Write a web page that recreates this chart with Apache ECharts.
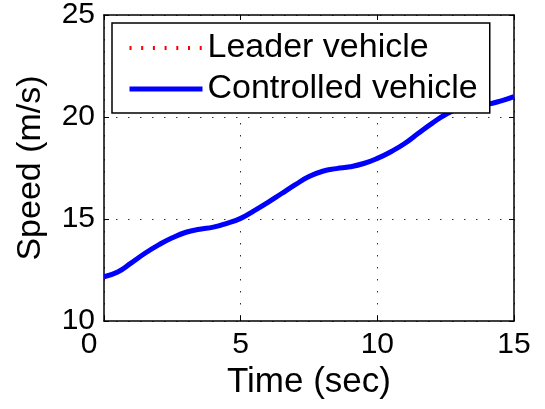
<!DOCTYPE html>
<html>
<head>
<meta charset="utf-8">
<script src="https://cdn.jsdelivr.net/npm/echarts@6/dist/echarts.min.js"></script>
<style>
  html, body { margin: 0; padding: 0; background: #fff; }
  #chart { width: 545px; height: 409px; }
</style>
</head>
<body>
<div id="chart"></div>
<script>
// Time samples (sec)
const times = [0, 0.5, 1, 1.5, 2, 2.5, 3, 3.5, 4, 4.5, 5, 5.5, 6, 6.5, 7, 7.5,
  8, 8.5, 9, 9.5, 10, 10.5, 11, 11.5, 12, 12.5, 13, 13.5, 14, 14.5, 15];
// Speeds (m/s)
const leaderSpeed = [12.15, 12.4, 12.85, 13.32, 13.73, 14.08, 14.35, 14.5, 14.6, 14.79,
  15.03, 15.41, 15.82, 16.25, 16.68, 17.08, 17.34, 17.47, 17.56, 17.72,
  17.97, 18.3, 18.7, 19.2, 19.69, 20.12, 20.42, 20.54, 20.62, 20.78, 21.0];
const controlledSpeed = [12.17, 12.4, 12.85, 13.32, 13.73, 14.08, 14.35, 14.5, 14.6, 14.79,
  15.03, 15.41, 15.82, 16.25, 16.68, 17.08, 17.34, 17.47, 17.56, 17.72,
  17.97, 18.3, 18.7, 19.2, 19.69, 20.12, 20.42, 20.54, 20.62, 20.78, 21.0];
const seriesNames = ['Leader vehicle', 'Controlled vehicle'];
const xTicks = { min: 0, max: 15, interval: 5 };
const yTicks = { min: 10, max: 25, interval: 5 };

const font = 'Liberation Sans';
const red = '#ff0000';
const blue = '#0000ff';
const leaderLine = { color: red, width: 4, type: [2, 9.7] };
const controlledLine = { color: blue, width: 5 };

const chart = echarts.init(document.getElementById('chart'));

function pairs(values) {
  return times.map((t, i) => [t, values[i]]);
}

// MATLAB style box: every side drawn, ticks pointing in
const boxLine = { show: true, onZero: false, lineStyle: { color: '#000', width: 1.5 } };
const inTick = { show: true, inside: true, length: 5, lineStyle: { color: '#000', width: 1 } };
const dotted = { show: true, lineStyle: { color: '#333', width: 1, type: [1.5, 10.5] } };

chart.setOption({
  animation: false,
  textStyle: { fontFamily: font },
  grid: { left: 104, right: 31, top: 15, bottom: 88 },
  xAxis: [
    {
      type: 'value',
      min: xTicks.min,
      max: xTicks.max,
      interval: xTicks.interval,
      name: 'Time (sec)',
      nameLocation: 'middle',
      nameGap: 38,
      nameTextStyle: { fontFamily: font, fontSize: 35, color: '#000' },
      axisLine: boxLine,
      axisTick: inTick,
      axisLabel: {
        fontFamily: font,
        fontSize: 30,
        color: '#000',
        margin: 9,
        // the 0 label sits a bit left of the corner in the original
        formatter: v => (v === 0 ? '{z|0}' : String(v)),
        rich: { z: { fontFamily: font, fontSize: 30, color: '#000', padding: [0, 30, 0, 0] } }
      },
      splitLine: dotted
    },
    {
      type: 'value',
      position: 'top',
      min: xTicks.min,
      max: xTicks.max,
      interval: xTicks.interval,
      axisLine: boxLine,
      axisTick: inTick,
      axisLabel: { show: false },
      splitLine: { show: false }
    }
  ],
  yAxis: [
    {
      type: 'value',
      min: yTicks.min,
      max: yTicks.max,
      interval: yTicks.interval,
      name: 'Speed (m/s)',
      nameLocation: 'middle',
      nameGap: 56,
      nameTextStyle: { fontFamily: font, fontSize: 34, color: '#000' },
      axisLine: boxLine,
      axisTick: inTick,
      axisLabel: { fontFamily: font, fontSize: 30, color: '#000', margin: 9 },
      splitLine: dotted
    },
    {
      type: 'value',
      position: 'right',
      min: yTicks.min,
      max: yTicks.max,
      interval: yTicks.interval,
      axisLine: boxLine,
      axisTick: inTick,
      axisLabel: { show: false },
      splitLine: { show: false }
    }
  ],
  legend: {
    orient: 'vertical',
    left: 112,
    top: 23,
    padding: [8, 12, 7, 15],
    itemGap: 7,
    itemWidth: 73,
    itemHeight: 14,
    itemTextGap: 8,
    backgroundColor: '#fff',
    borderColor: '#000',
    borderWidth: 1.5,
    borderRadius: 0,
    // hide the symbol, keep only the line sample
    itemStyle: { opacity: 0 },
    textStyle: { fontFamily: font, fontSize: 34, color: '#000', lineHeight: 34 },
    data: [
      { name: seriesNames[0], itemStyle: { opacity: 0 }, lineStyle: leaderLine },
      { name: seriesNames[1], itemStyle: { opacity: 0 }, lineStyle: controlledLine }
    ]
  },
  series: [
    {
      name: seriesNames[0],
      type: 'line',
      data: pairs(leaderSpeed),
      smooth: 0.5,
      symbol: 'none',
      color: red,
      lineStyle: leaderLine
    },
    {
      name: seriesNames[1],
      type: 'line',
      data: pairs(controlledSpeed),
      smooth: 0.5,
      symbol: 'none',
      color: blue,
      lineStyle: controlledLine
    }
  ]
});
</script>
</body>
</html>
